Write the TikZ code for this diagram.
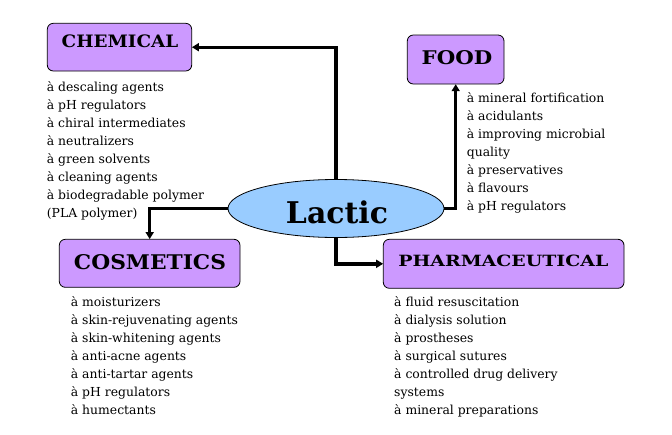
\documentclass[tikz,border=0pt]{standalone}
\usepackage{fontspec}
\setmainfont{DejaVu Serif}
\usetikzlibrary{shapes.geometric,arrows.meta}
\definecolor{boxpurple}{HTML}{CC99FF}
\definecolor{ellblue}{HTML}{99CCFF}
\tikzset{
  catbox/.style={draw=black, line width=0.8pt, fill=boxpurple, rounded corners=6pt, inner sep=0pt},
  cattitle/.style={font=\bfseries, inner sep=0pt},
  item/.style={anchor=base west, inner sep=0pt, font=\fontsize{12.4}{18}\selectfont},
  conn/.style={line width=3.4pt, -{Triangle[length=7pt,width=8pt]}},
}
\begin{document}
\begin{tikzpicture}[x=1pt,y=-1pt]
\useasboundingbox (0,0) rectangle (672,434);
% boxes
\draw[catbox] (47.3,23.3) rectangle (191.7,71);
\node[inner sep=0pt, minimum width=144.4pt, minimum height=47.7pt] (chem) at (119.5,47.2) {};
\node[cattitle] (chemt) at (120,41.3) {\resizebox{116.6pt}{12.7pt}{CHEMICAL}};

\draw[catbox] (407.3,35) rectangle (504,84);
\node[inner sep=0pt, minimum width=96.7pt, minimum height=49pt] (food) at (455.7,59.5) {};
\node[cattitle] (foodt) at (457,58) {\resizebox{70.6pt}{14pt}{FOOD}};

\draw[catbox] (59.3,239.3) rectangle (240,287.3);
\node[inner sep=0pt, minimum width=180.7pt, minimum height=48pt] (cosm) at (149.7,263.3) {};
\node[cattitle] (cosmt) at (150,261.7) {\resizebox{152pt}{15pt}{COSMETICS}};

\draw[catbox] (383.3,239.3) rectangle (624,288.3);
\node[inner sep=0pt, minimum width=240.7pt, minimum height=49pt] (pharm) at (503.7,263.8) {};
\node[cattitle] (pharmt) at (503.3,260.5) {\resizebox{210pt}{11.5pt}{PHARMACEUTICAL}};

% ellipse
\node[ellipse, draw=black, line width=0.8pt, fill=ellblue, minimum width=216pt, minimum height=58pt, inner sep=0pt] (lac) at (336,208.5) {};
\node[inner sep=0pt] (lact) at (337,212) {\resizebox{102pt}{!}{\bfseries Lactic}};

% connectors
\draw[conn] (lac.north) -- (lac.north |- chem.east) -- (chem.east);
\draw[conn] (lac.east) -- (food.south |- lac.east) -- (food.south);
\draw[conn] (lac.west) -- (cosm.north |- lac.west) -- (cosm.north);
\draw[conn] (lac.south) -- (lac.south |- pharm.west) -- (pharm.west);

% lists
\foreach \t [count=\i] in {à descaling agents, à pH regulators, à chiral intermediates, à neutralizers, à green solvents, à cleaning agents, à biodegradable polymer, (PLA polymer)}
  \node[item] (chem\i) at (46.7, 91+18*\i-18) {\t};
\foreach \t [count=\i] in {à mineral fortification, à acidulants, à improving microbial, quality, à preservatives, à flavours, à pH regulators}
  \node[item] (food\i) at (466.7, 102.3+18*\i-18) {\t};
\foreach \t [count=\i] in {à moisturizers, à skin-rejuvenating agents, à skin-whitening agents, à anti-acne agents, à anti-tartar agents, à pH regulators, à humectants}
  \node[item] (cosm\i) at (70.7, 306.7+18*\i-18) {\t};
\foreach \t [count=\i] in {à fluid resuscitation, à dialysis solution, à prostheses, à surgical sutures, à controlled drug delivery, systems, à mineral preparations}
  \node[item] (pharm\i) at (394, 306+18*\i-18) {\t};
\end{tikzpicture}
\end{document}
